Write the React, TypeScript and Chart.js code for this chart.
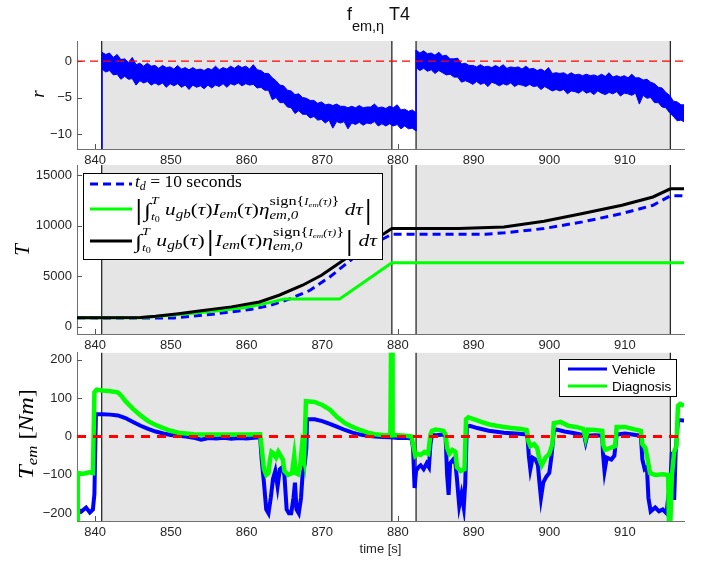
import React, { useEffect, useRef } from 'react';
import { Chart, registerables } from 'chart.js';

Chart.register(...registerables);

// ---------- shared x axis ----------
const X_MIN = 837.6;
const X_MAX = 917.8;
const X_TICKS = [840, 850, 860, 870, 880, 890, 900, 910];
const GRAY_REGIONS: [number, number][] = [[840.86, 879.2], [882.4, 916.0]];
const EDGES = [840.86, 879.2, 882.4, 916.0];

// ---------- panel 1: residual r ----------
const R_TICKS = [-10, -5, 0];
const R_A_START = 840.9;
const R_B_START = 882.4;
const R_STEP = 0.5;
const R_A_UPPER = [1.2,0.9,1.1,0.5,0.9,0.2,0.3,-0.2,0.5,-0.5,-0.3,-0.7,-0.3,-0.7,-0.6,-1.0,-0.6,-0.9,-0.8,-1.1,-0.6,-1.1,-0.9,-1.2,-0.9,-1.2,-1.1,-1.3,-1.0,-1.2,-0.7,-1.2,-0.9,-1.1,-0.7,-1.0,-0.6,-0.9,-0.7,-1.1,-0.5,-1.2,-1.3,-1.7,-1.7,-2.3,-2.7,-3.3,-3.4,-4.0,-4.1,-4.6,-4.5,-5.0,-5.1,-5.4,-5.4,-5.8,-5.6,-6.0,-5.9,-6.1,-5.9,-6.2,-6.2,-6.4,-6.2,-6.4,-6.1,-6.4,-6.3,-6.3,-5.9,-6.4,-6.3,-6.5,-6.2,-6.4,-6.0,-6.7,-6.6,-6.9,-6.7,-7.1];
const R_A_LOWER = [-1.1,-1.5,-1.3,-1.9,-1.8,-2.5,-2.1,-2.5,-2.4,-3.3,-2.7,-3.0,-2.8,-3.3,-3.0,-3.3,-3.0,-3.6,-3.1,-3.4,-3.1,-3.6,-3.3,-3.9,-3.3,-3.6,-3.4,-3.8,-3.3,-3.7,-3.3,-3.5,-3.1,-3.6,-3.1,-3.3,-3.0,-3.4,-3.1,-3.3,-3.2,-3.7,-3.6,-4.0,-4.0,-5.3,-5.0,-5.7,-5.7,-6.3,-6.4,-7.2,-6.8,-7.3,-7.3,-7.8,-7.6,-8.1,-8.0,-8.5,-8.1,-9.2,-8.3,-8.5,-8.3,-9.3,-8.5,-8.7,-8.4,-8.8,-8.5,-8.6,-8.3,-8.9,-8.6,-8.9,-8.6,-8.9,-8.7,-9.3,-8.9,-9.3,-9.2,-9.6];
const R_B_UPPER = [1.5,1.1,1.4,1.0,1.1,0.8,1.2,0.7,0.8,0.3,0.3,0.4,-0.4,-0.3,-0.6,-0.6,-0.8,-0.5,-0.8,-0.7,-0.9,-0.6,-0.9,-0.5,-1.0,-0.8,-0.9,-0.8,-1.1,-0.7,-1.1,-1.0,-1.3,-1.1,-1.4,-0.9,-1.7,-1.6,-1.7,-1.6,-1.9,-1.6,-1.9,-1.8,-2.0,-1.8,-2.0,-1.9,-2.1,-1.8,-2.1,-1.6,-2.2,-2.0,-2.2,-2.0,-2.3,-1.8,-2.3,-2.3,-2.6,-2.5,-2.9,-3.1,-3.6,-3.7,-4.3,-4.7,-5.5,-5.6,-6.0,-6.0];
const R_B_LOWER = [-0.9,-1.3,-1.0,-1.4,-1.2,-1.7,-1.3,-1.6,-1.9,-1.8,-2.2,-2.2,-2.9,-2.7,-2.9,-3.2,-2.8,-3.2,-3.0,-3.5,-2.9,-3.1,-3.4,-3.1,-3.3,-3.0,-3.5,-3.2,-3.3,-3.5,-3.2,-3.5,-3.4,-3.9,-3.5,-3.8,-4.1,-3.9,-4.1,-3.9,-4.5,-4.1,-4.2,-4.4,-4.0,-4.4,-4.2,-4.6,-4.1,-4.4,-4.6,-4.3,-4.5,-4.2,-4.8,-4.4,-4.5,-4.7,-4.4,-5.9,-4.7,-5.1,-5.0,-5.7,-5.7,-6.3,-6.4,-7.1,-7.6,-8.2,-8.1,-8.4];
const R_JUMPS: [number, number | null][] = [[840.9, -13], [840.9, 1.2], [840.9, null], [882.4, -9.6], [882.4, 1.5]];

// ---------- panel 2: accumulated T ----------
const T_TICKS = [0, 5000, 10000, 15000];
const TD10: [number, number][] = [[837.6,900],[846,880],[850.4,890],[855.5,1250],[860.7,1750],[863.2,2140],[865.8,2800],[868.4,3620],[871,4940],[873.5,6430],[875.6,7740],[877.7,8570],[879.2,9160],[891.6,9160],[894.1,9300],[899.3,9720],[904.4,10380],[909.6,11200],[913.7,12020],[916,12950],[917.8,12950]];
const ABS_OUTER: [number, number][] = [[837.6,900],[846,910],[850,1150],[855,1500],[860,1950],[863,2400],[865,2750],[872.3,2750],[879.2,6350],[917.8,6350]];
const ABS_INNER: [number, number][] = [[837.6,900],[846,920],[848,1050],[851,1300],[854,1600],[858,1980],[861.7,2470],[864.3,3130],[867.4,4120],[869.9,5110],[872.5,6430],[874.6,7500],[876.6,8570],[878.2,9230],[879.2,9720],[888,9720],[894,9880],[899.3,10440],[904.4,11200],[909.6,12020],[913.7,12840],[916,13650],[917.8,13650]];

// ---------- panel 3: torque ----------
const TEM_TICKS = [-200, -100, 0, 100, 200];
const VEHICLE: [number, number][] = [[837.65,-190],[838.2,-195],[838.8,-185],[839.3,-198],[839.7,-190],[839.9,-150],[840.1,58],[841,58],[842,57],[843,55],[844,48],[845,38],[846,28],[847,20],[848,13],[849,8],[850,4],[851,2],[852,0],[853,-3],[854,-8],[855,-4],[856,-5],[857,-3],[858,-6],[859,-4],[860,-5],[861,-3],[861.8,-2],[862.0,-60],[862.3,-120],[862.6,-190],[862.9,-200],[863.2,-160],[863.5,-110],[863.8,-90],[864.1,-130],[864.4,-85],[864.7,-80],[865.0,-100],[865.3,-190],[865.6,-200],[865.9,-200],[866.2,-160],[866.4,-120],[866.6,-190],[866.9,-200],[867.2,-160],[867.4,-100],[867.7,-70],[867.9,-30],[868.0,45],[869,45],[870,40],[871,33],[872,25],[873,17],[874,10],[875,5],[876,2],[877,0],[878,-1],[879,-2],[880,-4],[881,-3],[881.8,-5],[882.0,-30],[882.2,-134],[882.4,-90],[882.7,-80],[883.0,-75],[883.4,-85],[883.8,-70],[884.1,-80],[884.3,-20],[884.5,5],[885,3],[886,5],[886.3,0],[886.5,-100],[886.7,-152],[886.9,-70],[887.3,-60],[887.6,-70],[887.8,-110],[888.1,-180],[888.4,-150],[888.7,-185],[888.9,-120],[889.1,25],[889.5,28],[890.5,22],[892,15],[894,10],[896,7],[897.1,5],[897.3,-50],[897.5,-85],[897.8,-55],[898.2,-60],[898.5,-75],[898.7,-120],[898.9,-160],[899.2,-120],[899.6,-105],[900,-95],[900.3,-50],[900.6,15],[901,18],[902,13],[903,10],[904,6],[904.6,3],[904.8,-15],[905,2],[906,3],[907,2],[907.1,-45],[907.3,-90],[907.6,-55],[908.2,-60],[908.6,-50],[908.9,5],[910,8],[911,5],[912.1,2],[912.3,-60],[912.6,-85],[912.9,-80],[913.1,-160],[913.4,-195],[914,-185],[914.5,-195],[915,-190],[915.5,-200],[915.7,-160],[916,-120],[916.2,-40],[916.3,-100],[916.5,-165],[916.7,-40],[917,43],[917.8,42]];
const DIAGNOSIS: [number, number][] = [[837.65,-222],[837.7,-95],[838.5,-97],[839.2,-93],[839.7,-95],[839.9,115],[840.2,122],[841,120],[842,118],[843,115],[843.5,105],[844,92],[845,72],[846,55],[847,40],[848,30],[849,22],[850,15],[851,10],[852,8],[853,6],[854,5],[856,5],[858,5],[860,5],[861.8,6],[862.0,-30],[862.3,-85],[862.6,-100],[862.9,-95],[863.1,-60],[863.3,-40],[863.6,-45],[863.9,-55],[864.2,-40],[864.5,-50],[864.8,-60],[865.0,-90],[865.5,-100],[866,-95],[866.3,-50],[866.5,-95],[866.8,-98],[867.1,-75],[867.3,-30],[867.6,-60],[867.85,92],[869,90],[870,82],[871,70],[872,50],[873,35],[874,25],[875,17],[876,10],[877,6],[878,4],[879.0,3],[879.1,240],[879.25,240],[879.3,3],[880,3],[881,2],[881.8,0],[882.0,-20],[882.3,-50],[882.6,-45],[883,-48],[883.5,-40],[884,-45],[884.3,5],[884.5,15],[885,18],[886,15],[886.3,5],[886.5,-30],[886.8,-45],[887.2,-35],[887.6,-40],[887.8,-80],[888.3,-90],[888.8,-85],[889.0,45],[889.3,50],[890,45],[891,38],[892,32],[893,28],[894,25],[895,22],[896,20],[897,17],[897.2,-10],[897.5,-25],[898,-20],[898.4,-30],[898.7,-60],[899,-75],[899.5,-55],[900,-45],[900.4,-20],[900.6,35],[901.5,38],[902.5,28],[903.5,25],[904.5,20],[904.8,-5],[905.1,18],[906,17],[907,15],[907.1,-20],[907.4,-35],[908,-30],[908.7,-25],[908.9,25],[910,25],[911,20],[912.1,15],[912.3,-20],[912.7,-30],[913.0,-60],[913.3,-95],[914,-100],[915,-98],[915.7,-100],[915.8,-222],[916.0,-222],[916.2,-100],[916.5,-40],[916.8,-25],[917.0,80],[917.3,85],[917.8,80]];

// ---------- styling ----------
const SANS = '"Liberation Sans", Arial, Helvetica, sans-serif';
const SERIF = '"Liberation Serif", "DejaVu Serif", "Times New Roman", serif';
const R = (s: number) => `${s}px ${SERIF}`;
const I = (s: number) => `italic ${s}px ${SERIF}`;
const S = (s: number) => `${s}px ${SANS}`;
const BLUE = '#0000ff';
const GREEN = '#00ff00';
const RED = '#ff0000';

type Seg = { t?: string; f?: string; dy?: number; stack?: Seg[][] };
const tx = (t: string, f: string, dy = 0): Seg => ({ t, f, dy });

function segW(ctx: CanvasRenderingContext2D, segs: Seg[]): number {
  let w = 0;
  for (const s of segs) {
    if (s.stack) w += Math.max(...s.stack.map((l) => segW(ctx, l)));
    else { ctx.font = s.f!; w += ctx.measureText(s.t!).width; }
  }
  return w;
}
function segDraw(ctx: CanvasRenderingContext2D, segs: Seg[], x: number, y: number): number {
  for (const s of segs) {
    if (s.stack) {
      let m = 0;
      for (const l of s.stack) m = Math.max(m, segDraw(ctx, l, x, y) - x);
      x += m;
    } else {
      ctx.font = s.f!;
      ctx.fillText(s.t!, x, y + (s.dy || 0));
      x += ctx.measureText(s.t!).width;
    }
  }
  return x;
}
function drawRich(ctx: CanvasRenderingContext2D, segs: Seg[], x: number, y: number,
  o: { center?: boolean; width?: number; rotate?: boolean; color?: string } = {}) {
  ctx.save();
  ctx.textAlign = 'left';
  ctx.textBaseline = 'alphabetic';
  ctx.fillStyle = o.color || '#000';
  const w = segW(ctx, segs);
  ctx.translate(x, y);
  if (o.rotate) ctx.rotate(-Math.PI / 2);
  const sx = o.width ? o.width / w : 1;
  ctx.scale(sx, 1);
  segDraw(ctx, segs, o.center ? -w / 2 : 0, 0);
  ctx.restore();
}

const fmt = (v: number) => (v < 0 ? '\u2212' + Math.abs(v) : String(v));

function xScale(h: number) {
  return {
    type: 'linear', min: X_MIN, max: X_MAX,
    afterBuildTicks: (s: any) => { s.ticks = X_TICKS.map((v) => ({ value: v })); },
    afterFit: (s: any) => { s.height = h; },
    grid: { display: false, drawTicks: false },
    border: { display: true, color: '#707070', width: 1 },
    ticks: { font: { family: SANS, size: 13 }, color: '#262626', padding: 4, maxRotation: 0, autoSkip: false, callback: (v: any) => fmt(Number(v)) },
  };
}
function yScale(min: number, max: number, ticks: number[]) {
  return {
    type: 'linear', min, max,
    afterBuildTicks: (s: any) => { s.ticks = ticks.map((v) => ({ value: v })); },
    afterFit: (s: any) => { s.width = 77; },
    grid: { display: false, drawTicks: false },
    border: { display: true, color: '#707070', width: 1 },
    ticks: { font: { family: SANS, size: 13 }, color: '#262626', padding: 5, autoSkip: false, callback: (v: any) => fmt(Number(v)) },
  };
}
function baseOptions(top: number, xH: number, yMin: number, yMax: number, yTicks: number[]) {
  return {
    responsive: false, animation: false, devicePixelRatio: 1, events: [],
    layout: { padding: { left: 0, right: 20, top, bottom: 0 } },
    plugins: { legend: { display: false }, tooltip: { enabled: false }, title: { display: false } },
    elements: { point: { radius: 0 }, line: { tension: 0 } },
    scales: { x: xScale(xH), y: yScale(yMin, yMax, yTicks) },
  };
}
const pts = (arr: [number, number | null][]) => arr.map(([x, y]) => ({ x, y }));
const series = (start: number, vals: number[]) => vals.map((y, i) => ({ x: start + i * R_STEP, y }));

function decor(yTicks: number[], after?: (c: any) => void) {
  return {
    id: 'decor',
    beforeDatasetsDraw(chart: any) {
      const { ctx, chartArea: ca, scales } = chart;
      const xs = scales.x, ys = scales.y;
      ctx.save();
      ctx.strokeStyle = '#555';
      ctx.lineWidth = 1;
      ctx.beginPath();
      for (const v of X_TICKS) {
        const px = Math.round(xs.getPixelForValue(v)) + 0.5;
        ctx.moveTo(px, ca.bottom); ctx.lineTo(px, ca.bottom - 5);
      }
      for (const v of yTicks) {
        const py = Math.round(ys.getPixelForValue(v)) + 0.5;
        ctx.moveTo(ca.left, py); ctx.lineTo(ca.left + 5, py);
      }
      ctx.stroke();
      ctx.fillStyle = '#e5e5e5';
      for (const [a, b] of GRAY_REGIONS) {
        const pa = xs.getPixelForValue(a), pb = xs.getPixelForValue(b);
        ctx.fillRect(pa, ca.top, pb - pa, ca.bottom - ca.top);
      }
      ctx.strokeStyle = '#2a2a2a';
      ctx.lineWidth = 1.3;
      ctx.beginPath();
      for (const e of EDGES) {
        const p = xs.getPixelForValue(e);
        ctx.moveTo(p, ca.top); ctx.lineTo(p, ca.bottom);
      }
      ctx.stroke();
      ctx.restore();
    },
    afterDatasetsDraw(chart: any) { if (after) after(chart); },
  };
}

function cfg1(): any {
  return {
    type: 'line',
    data: {
      datasets: [
        { data: pts([[X_MIN, 0], [X_MAX, 0]]), borderColor: RED, borderWidth: 1.2, borderDash: [8, 5] },
        { data: pts(R_JUMPS), borderColor: BLUE, borderWidth: 1.5 },
        { data: series(R_A_START, R_A_UPPER), borderColor: BLUE, borderWidth: 1, fill: '+1', backgroundColor: BLUE },
        { data: series(R_A_START, R_A_LOWER), borderColor: BLUE, borderWidth: 1 },
        { data: series(R_B_START, R_B_UPPER), borderColor: BLUE, borderWidth: 1, fill: '+1', backgroundColor: BLUE },
        { data: series(R_B_START, R_B_LOWER), borderColor: BLUE, borderWidth: 1 },
      ],
    },
    options: baseOptions(41, 23, -12.06, 2.75, R_TICKS),
    plugins: [
      decor(R_TICKS, (c) => {
        const ctx = c.ctx;
        drawRich(ctx, [tx('f', S(18)), tx('em,\u03b7', S(14.5), 11), tx(' T4', S(18))], 378.5, 20, { center: true, color: '#111' });
        drawRich(ctx, [tx('r', I(19))], 44, 94, { center: true, rotate: true });
      }),
    ],
  };
}

function cfg2(): any {
  const OFF = 150;
  return {
    type: 'line',
    data: {
      datasets: [
        { data: pts(ABS_INNER), borderColor: '#000', borderWidth: 3 },
        { data: pts(ABS_OUTER), borderColor: GREEN, borderWidth: 3 },
        { data: pts(TD10), borderColor: BLUE, borderWidth: 3, borderDash: [8, 5] },
      ],
    },
    options: baseOptions(165 - OFF, 18, -700, 16000, T_TICKS),
    plugins: [
      decor(T_TICKS, (c) => {
        const ctx = c.ctx;
        drawRich(ctx, [tx('T', I(21))], 29, 250 - OFF, { center: true, rotate: true });
        // legend box
        ctx.save();
        const L = 83, T = 173 - OFF, W = 299, H = 86;
        ctx.fillStyle = '#fff';
        ctx.fillRect(L, T, W, H);
        ctx.strokeStyle = '#000';
        ctx.lineWidth = 1;
        ctx.strokeRect(L + 0.5, T + 0.5, W, H);
        const line = (y: number, color: string, dash: number[]) => {
          ctx.beginPath();
          ctx.setLineDash(dash);
          ctx.strokeStyle = color;
          ctx.lineWidth = 3;
          ctx.moveTo(90, y); ctx.lineTo(132, y);
          ctx.stroke();
          ctx.setLineDash([]);
        };
        line(184 - OFF, BLUE, [8, 5]);
        line(209 - OFF, GREEN, []);
        line(241 - OFF, '#000', []);
        ctx.restore();
        const sup: Seg[] = [tx('sign', R(13), -10), tx('{', R(13), -10), tx('I', I(10), -10), tx('em', I(7), -8), tx('(\u03c4)', I(10), -10), tx('}', R(13), -10)];
        const eta: Seg[] = [tx('\u03b7', I(17)), { stack: [sup, [tx('em,0', I(12), 4)]] }];
        const intg: Seg[] = [tx('\u222b', R(20), 2), { stack: [[tx('T', I(11), -11)], [tx('t', I(11), 5), tx('0', R(8), 7)]] }];
        const ugb: Seg[] = [tx(' u', I(17)), tx('gb', I(12), 3), tx('(', R(17)), tx('\u03c4', I(17)), tx(')', R(17))];
        const iem: Seg[] = [tx('I', I(17)), tx('em', I(12), 3), tx('(', R(17)), tx('\u03c4', I(17)), tx(')', R(17))];
        const bar = tx('|', R(30), 4);
        drawRich(ctx, [tx('t', I(17.5)), tx('d', I(12), 3), tx(' = 10 seconds', R(17.5))], 135, 187 - OFF);
        drawRich(ctx, [bar, tx(' ', R(5)), ...intg, ...ugb, ...iem, ...eta, tx(' d', I(17)), tx('\u03c4', I(17)), tx(' ', R(5)), bar], 135, 215 - OFF, { width: 237 });
        drawRich(ctx, [...intg, ...ugb, tx(' ', R(6)), bar, tx(' ', R(3)), ...iem, ...eta, tx(' ', R(4)), bar, tx(' d', I(17)), tx('\u03c4', I(17))], 135, 246 - OFF, { width: 242 });
      }),
    ],
  };
}

function cfg3(): any {
  const OFF = 340;
  return {
    type: 'line',
    data: {
      datasets: [
        { data: pts([[X_MIN, 0], [X_MAX, 0]]), borderColor: RED, borderWidth: 3, borderDash: [9, 7] },
        { data: pts(DIAGNOSIS), borderColor: GREEN, borderWidth: 4.5 },
        { data: pts(VEHICLE), borderColor: BLUE, borderWidth: 4 },
      ],
    },
    options: baseOptions(352 - OFF, 40, -220, 218, TEM_TICKS),
    plugins: [
      decor(TEM_TICKS, (c) => {
        const ctx = c.ctx;
        drawRich(ctx, [tx('T', I(22)), tx('em', I(15), 4), tx(' [', R(22)), tx('Nm', I(22)), tx(']', R(22))], 33, 434 - OFF, { center: true, rotate: true, width: 90 });
        ctx.save();
        ctx.fillStyle = '#262626';
        ctx.font = S(13);
        ctx.textAlign = 'center';
        ctx.textBaseline = 'middle';
        ctx.fillText('time [s]', 380.5, 549 - OFF);
        // legend
        const L = 559, T = 359 - OFF, W = 117, H = 37;
        ctx.fillStyle = '#fff';
        ctx.fillRect(L, T, W, H);
        ctx.strokeStyle = '#000';
        ctx.lineWidth = 1;
        ctx.strokeRect(L + 0.5, T + 0.5, W, H);
        const entry = (y: number, color: string, label: string) => {
          ctx.beginPath();
          ctx.strokeStyle = color;
          ctx.lineWidth = 3;
          ctx.moveTo(568, y); ctx.lineTo(607, y);
          ctx.stroke();
          ctx.fillStyle = '#000';
          ctx.font = S(13.5);
          ctx.textAlign = 'left';
          ctx.textBaseline = 'middle';
          ctx.fillText(label, 612, y + 1);
        };
        entry(369 - OFF, BLUE, 'Vehicle');
        entry(386 - OFF, GREEN, 'Diagnosis');
        ctx.restore();
      }),
    ],
  };
}

export default function App() {
  const r1 = useRef<HTMLCanvasElement>(null);
  const r2 = useRef<HTMLCanvasElement>(null);
  const r3 = useRef<HTMLCanvasElement>(null);
  useEffect(() => {
    const charts = [
      new Chart(r1.current!, cfg1()),
      new Chart(r2.current!, cfg2()),
      new Chart(r3.current!, cfg3()),
    ];
    return () => charts.forEach((c) => c.destroy());
  }, []);
  return (
    <div style={{ position: 'absolute', left: 0, top: 0, width: 704, height: 561, background: '#fff' }}>
      <canvas ref={r1} width={704} height={172} style={{ position: 'absolute', left: 0, top: 0 }} />
      <canvas ref={r2} width={704} height={202} style={{ position: 'absolute', left: 0, top: 150 }} />
      <canvas ref={r3} width={704} height={221} style={{ position: 'absolute', left: 0, top: 340 }} />
    </div>
  );
}
